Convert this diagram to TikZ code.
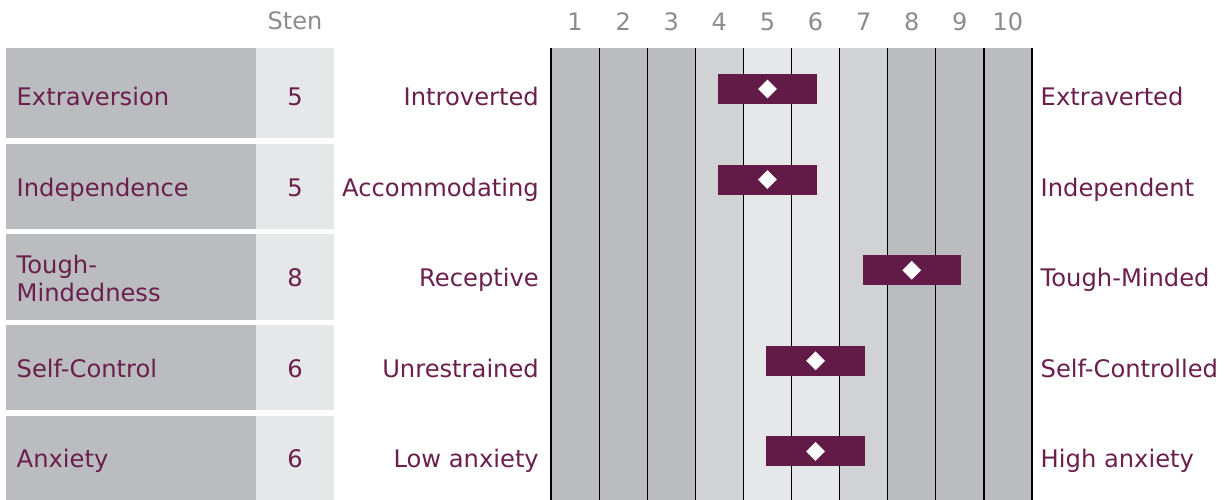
\documentclass[tikz,border=0pt]{standalone}
\usepackage{fontspec}
\setmainfont{DejaVu Sans}
\usetikzlibrary{shapes.geometric}
\definecolor{plum}{HTML}{621A46}
\definecolor{txt}{HTML}{6A1F4C}
\definecolor{grayA}{HTML}{BBBCC0}
\definecolor{grayB}{HTML}{D1D2D4}
\definecolor{grayC}{HTML}{E6E7E9}
\definecolor{hdr}{HTML}{8C8C8C}
\tikzset{
  lbl/.style={inner sep=0pt, text=txt, font=\fontsize{24.2}{28}\selectfont},
  hdrlbl/.style={inner sep=0pt, text=hdr, font=\fontsize{24}{28}\selectfont, anchor=base},
  barbox/.style={fill=plum, draw=none, minimum width=98.5pt, minimum height=30pt, inner sep=0pt},
  mark diamond/.style={diamond, fill=white, draw=none, minimum width=19pt, minimum height=19pt, inner sep=0pt},
  gridline/.style={black, line width=1.2pt},
}
\begin{document}
\begin{tikzpicture}[x=1pt,y=-1pt]
\useasboundingbox (0,0) rectangle (1228,500);
% column backgrounds
\foreach \i/\c in {1/grayA,2/grayA,3/grayA,4/grayB,5/grayC,6/grayC,7/grayB,8/grayA,9/grayA,10/grayA}{
  \fill[\c] ({551+(\i-1)*48.1},48) rectangle ({551+\i*48.1},500);
  \node[hdrlbl] (col\i) at ({551+(\i-0.5)*48.1},31) {\i};
}
\foreach \i in {0,...,10}{
  \coordinate (gt\i) at ({551+\i*48.1},48);
  \coordinate (gb\i) at ({551+\i*48.1},500);
  \draw[gridline] (gt\i) -- (gb\i);
}
\node[hdrlbl] (sten) at (295,29.5) {Sten};
% row boxes
\foreach \r/\top/\bot in {0/48/138,1/144/229,2/234/320,3/325/410,4/416/500}{
  \fill[grayA] (6,\top) rectangle (256,\bot);
  \fill[grayC] (256,\top) rectangle (334,\bot);
}
\foreach \r/\nm in {0/Extraversion,1/Independence,3/Self-Control,4/Anxiety}{
  \node[lbl, anchor=base west] (name\r) at (16.5,{105.5+90.5*\r}) {\nm};
}
\node[lbl, anchor=base west] (name2a) at (16.5,273) {Tough-};
\node[lbl, anchor=base west] (name2b) at (16.5,301) {Mindedness};
\foreach \r/\s/\lt/\rt in {0/5/Introverted/Extraverted,
  1/5/Accommodating/Independent,
  2/8/Receptive/Tough-Minded,
  3/6/Unrestrained/Self-Controlled,
  4/6/Low anxiety/High anxiety}{
  \node[lbl, anchor=base] (sten\r) at (295,{105.5+90.5*\r}) {\s};
  \node[lbl, anchor=base east] (left\r) at (539,{105.5+90.5*\r}) {\lt};
  \node[lbl, anchor=base west] (right\r) at (1040.5,{105.5+90.5*\r}) {\rt};
  \node[barbox] (bar\r) at ({551+(\s-0.5)*48.1},{89+90.6*\r}) {};
  \node[mark diamond] (dia\r) at (bar\r.center) {};
}
\end{tikzpicture}
\end{document}
